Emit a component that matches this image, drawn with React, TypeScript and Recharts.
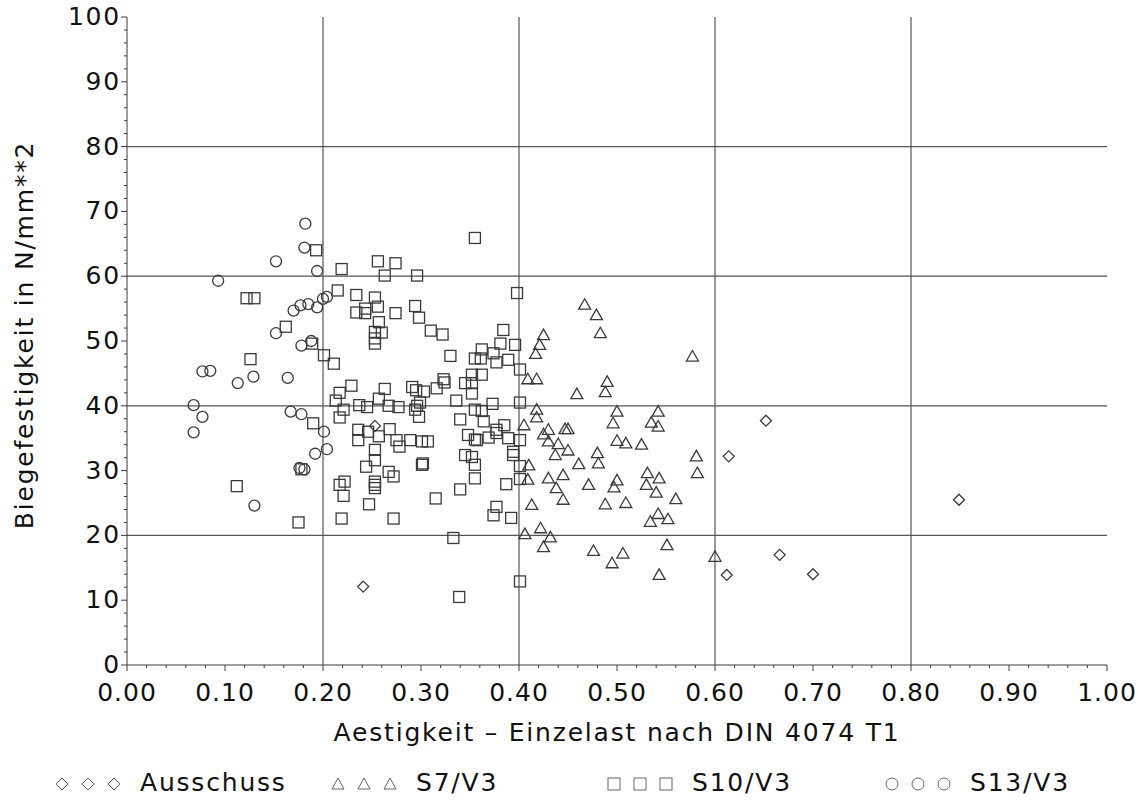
import {
  ScatterChart,
  Scatter,
  XAxis,
  YAxis,
  CartesianGrid,
  Label,
} from "recharts";

// [Aestigkeit, Biegefestigkeit]
const ausschuss: [number, number][] = [
  [0.253, 36.9], [0.241, 12.1], [0.614, 32.2], [0.652, 37.7], [0.666, 17.0],
  [0.612, 13.9], [0.7, 14.0], [0.849, 25.5],
];

const s7v3: [number, number][] = [
  [0.467, 55.6], [0.479, 54.0], [0.483, 51.2], [0.425, 50.9], [0.421, 49.4],
  [0.417, 48.0], [0.577, 47.6], [0.409, 44.1], [0.418, 44.1], [0.459, 41.8],
  [0.49, 43.7], [0.488, 42.1], [0.418, 39.4], [0.418, 38.2], [0.5, 39.1],
  [0.542, 39.1], [0.496, 37.3], [0.535, 37.4], [0.542, 36.8], [0.405, 37.0],
  [0.43, 36.3], [0.447, 36.4], [0.45, 36.4], [0.425, 35.6], [0.43, 34.5],
  [0.44, 34.1], [0.437, 32.4], [0.45, 33.1], [0.5, 34.6], [0.509, 34.2],
  [0.525, 34.0], [0.48, 32.7], [0.481, 31.1], [0.461, 31.0], [0.41, 30.8],
  [0.409, 28.6], [0.43, 28.8], [0.445, 29.3], [0.438, 27.3], [0.445, 25.5],
  [0.413, 24.7], [0.471, 27.8], [0.5, 28.5], [0.497, 27.4], [0.488, 24.8],
  [0.509, 25.0], [0.531, 29.6], [0.53, 27.8], [0.54, 26.6], [0.543, 28.8],
  [0.56, 25.6], [0.581, 32.2], [0.582, 29.6], [0.542, 23.3], [0.534, 22.1],
  [0.552, 22.5], [0.406, 20.2], [0.422, 21.1], [0.432, 19.7], [0.425, 18.2],
  [0.476, 17.6], [0.506, 17.2], [0.495, 15.7], [0.551, 18.5], [0.543, 13.9],
  [0.6, 16.7],
];

const s10v3: [number, number][] = [
  [0.193, 64.0], [0.219, 61.1], [0.215, 57.8], [0.122, 56.6], [0.13, 56.6],
  [0.162, 52.2], [0.126, 47.2], [0.189, 49.6], [0.201, 47.8], [0.211, 46.5],
  [0.112, 27.6], [0.175, 22.0], [0.178, 30.2], [0.19, 37.3], [0.217, 42.0],
  [0.213, 40.8], [0.221, 39.4], [0.217, 38.2], [0.217, 27.8], [0.222, 28.3],
  [0.221, 26.1], [0.219, 22.6], [0.355, 65.9], [0.256, 62.3], [0.274, 62.0],
  [0.263, 60.1], [0.296, 60.1], [0.234, 57.1], [0.253, 56.7], [0.256, 55.3],
  [0.243, 55.0], [0.234, 54.4], [0.243, 54.3], [0.274, 54.3], [0.294, 55.4],
  [0.298, 53.6], [0.257, 52.9], [0.26, 51.3], [0.253, 51.4], [0.253, 50.4],
  [0.253, 49.6], [0.31, 51.6], [0.322, 51.0], [0.384, 51.7], [0.381, 49.6],
  [0.396, 49.4], [0.362, 48.7], [0.374, 48.1], [0.355, 47.3], [0.361, 47.3],
  [0.377, 46.7], [0.389, 47.1], [0.33, 47.7], [0.401, 45.6], [0.352, 44.8],
  [0.362, 44.8], [0.323, 44.1], [0.398, 57.4], [0.229, 43.1], [0.263, 42.6],
  [0.291, 42.9], [0.295, 42.4], [0.303, 42.2], [0.316, 42.7], [0.324, 43.6],
  [0.345, 43.5], [0.352, 43.5], [0.352, 41.9], [0.257, 41.1], [0.237, 40.1],
  [0.245, 39.8], [0.267, 40.0], [0.277, 39.8], [0.296, 40.0], [0.299, 40.5],
  [0.294, 39.4], [0.298, 38.3], [0.336, 40.8], [0.373, 40.3], [0.401, 40.5],
  [0.34, 37.9], [0.355, 39.4], [0.362, 39.2], [0.364, 37.6], [0.385, 37.0],
  [0.236, 36.3], [0.236, 34.7], [0.246, 36.0], [0.257, 35.3], [0.268, 36.4],
  [0.275, 34.7], [0.278, 33.7], [0.289, 34.7], [0.301, 34.5], [0.307, 34.5],
  [0.348, 35.5], [0.355, 34.8], [0.357, 34.7], [0.369, 35.1], [0.377, 36.3],
  [0.377, 35.8], [0.389, 35.0], [0.401, 34.7], [0.253, 33.2], [0.253, 31.6],
  [0.244, 30.6], [0.267, 29.8], [0.272, 29.1], [0.301, 30.9], [0.302, 31.1],
  [0.345, 32.4], [0.352, 32.1], [0.355, 30.9], [0.394, 32.9], [0.394, 32.4],
  [0.401, 30.7], [0.253, 28.3], [0.253, 27.8], [0.253, 27.3], [0.401, 28.7],
  [0.355, 28.8], [0.387, 27.9], [0.34, 27.1], [0.315, 25.7], [0.247, 24.8],
  [0.272, 22.6], [0.377, 24.4], [0.374, 23.1], [0.392, 22.7], [0.333, 19.6],
  [0.401, 12.9], [0.339, 10.5],
];

const s13v3: [number, number][] = [
  [0.093, 59.3], [0.182, 68.1], [0.181, 64.4], [0.152, 62.3], [0.194, 60.8],
  [0.204, 56.8], [0.2, 56.5], [0.185, 55.7], [0.177, 55.5], [0.17, 54.7],
  [0.194, 55.2], [0.152, 51.2], [0.178, 49.3], [0.188, 50.0], [0.077, 45.3],
  [0.085, 45.4], [0.129, 44.5], [0.164, 44.3], [0.113, 43.5], [0.068, 40.1],
  [0.077, 38.3], [0.068, 35.9], [0.167, 39.1], [0.178, 38.7], [0.201, 36.0],
  [0.192, 32.6], [0.204, 33.3], [0.181, 30.2], [0.176, 30.4], [0.13, 24.6],
];

// ticks: labelled every 0.1 / 10, small marks every 0.02 / 2
const xTicks = Array.from({ length: 51 }, (_, i) => i / 50);
const yTicks = Array.from({ length: 51 }, (_, i) => i * 2);
const gridX = [0.2, 0.4, 0.6, 0.8];
const gridY = [20, 40, 60, 80];

const FONT = "DejaVu Sans, sans-serif";
const INK = "#3a3a3a";
const TXT = { fontSize: 25, fontFamily: FONT, fill: "#111", letterSpacing: 1.8 };

const toRows = (pts: [number, number][]) => pts.map(([x, y]) => ({ x, y }));

const Diamond = ({ cx, cy }: any) => (
  <polygon
    points={`${cx},${cy - 5.5} ${cx + 5.5},${cy} ${cx},${cy + 5.5} ${cx - 5.5},${cy}`}
    fill="none"
    stroke={INK}
    strokeWidth={1.3}
  />
);
const Triangle = ({ cx, cy }: any) => (
  <polygon
    points={`${cx},${cy - 6} ${cx + 6},${cy + 4.5} ${cx - 6},${cy + 4.5}`}
    fill="none"
    stroke={INK}
    strokeWidth={1.3}
  />
);
const Square = ({ cx, cy }: any) => (
  <rect x={cx - 5.5} y={cy - 5.5} width={11} height={11} fill="none" stroke={INK} strokeWidth={1.3} />
);
const Circle = ({ cx, cy }: any) => (
  <circle cx={cx} cy={cy} r={5.5} fill="none" stroke={INK} strokeWidth={1.3} />
);

const XTick = ({ x, y, payload }: any) => {
  const v = payload.value;
  const major = Math.abs(v * 10 - Math.round(v * 10)) < 1e-6;
  return (
    <g>
      <line x1={x} x2={x} y1={y} y2={y + (major ? 6 : 3)} stroke={INK} strokeWidth={1} />
      {major && (
        <text x={x} y={y + 36} textAnchor="middle" {...TXT} letterSpacing={1}>
          {v.toFixed(2)}
        </text>
      )}
    </g>
  );
};

const YTick = ({ x, y, payload }: any) => {
  const v = payload.value;
  const major = v % 10 === 0;
  return (
    <g>
      <line x1={x - (major ? 6 : 3)} x2={x} y1={y} y2={y} stroke={INK} strokeWidth={1} />
      {major && (
        <text x={x - 6} y={y + 8} textAnchor="end" {...TXT}>
          {v}
        </text>
      )}
    </g>
  );
};

const legendItems = [
  { name: "Ausschuss", shape: "diamond", left: 54 },
  { name: "S7/V3", shape: "triangle", left: 330 },
  { name: "S10/V3", shape: "square", left: 606 },
  { name: "S13/V3", shape: "circle", left: 884 },
];

function LegendGlyph({ shape }: { shape: string }) {
  const g = (cx: number) => {
    const cy = 10;
    if (shape === "diamond")
      return <polygon key={cx} points={`${cx},${cy - 6} ${cx + 6},${cy} ${cx},${cy + 6} ${cx - 6},${cy}`} fill="none" stroke="#666" strokeWidth={1} />;
    if (shape === "triangle")
      return <polygon key={cx} points={`${cx},${cy - 6} ${cx + 6},${cy + 5} ${cx - 6},${cy + 5}`} fill="none" stroke="#666" strokeWidth={1} />;
    if (shape === "square")
      return <rect key={cx} x={cx - 6} y={cy - 6} width={12} height={12} fill="none" stroke="#666" strokeWidth={1} />;
    return <circle key={cx} cx={cx} cy={cy} r={6} fill="none" stroke="#666" strokeWidth={1} />;
  };
  return (
    <svg width={80} height={20} style={{ verticalAlign: "middle" }}>
      {[8, 34, 60].map(g)}
    </svg>
  );
}

export default function App() {
  return (
    <div style={{ position: "absolute", left: 0, top: 0, width: 1138, height: 800, background: "#fff" }}>
      <ScatterChart width={1138} height={800} margin={{ top: 17, right: 31, left: 0, bottom: 0 }}>
        <CartesianGrid
          horizontalValues={gridY}
          verticalValues={gridX}
          stroke="#555"
          strokeWidth={1.2}
        />
        <XAxis
          type="number"
          dataKey="x"
          domain={[0, 1]}
          ticks={xTicks}
          interval={0}
          height={135}
          tickSize={0}
          tickMargin={0}
          tickLine={false}
          stroke={INK}
          tick={XTick}
        >
          <Label
            content={({ viewBox }: any) => (
              <text
                x={viewBox.x + viewBox.width / 2}
                y={viewBox.y + 76}
                textAnchor="middle"
                {...TXT}
              >
                Aestigkeit – Einzelast nach DIN 4074 T1
              </text>
            )}
          />
        </XAxis>
        <XAxis xAxisId="top" orientation="top" type="number" domain={[0, 1]} height={0} tick={false} tickLine={false} stroke={INK} />
        <YAxis
          type="number"
          dataKey="y"
          domain={[0, 100]}
          ticks={yTicks}
          interval={0}
          width={127}
          tickSize={0}
          tickMargin={0}
          tickLine={false}
          stroke={INK}
          tick={YTick}
        >
          <Label
            content={({ viewBox }: any) => {
              const cy = viewBox.y + viewBox.height / 2 - 6;
              return (
                <text
                  x={24}
                  y={cy}
                  transform={`rotate(-90, 24, ${cy})`}
                  textAnchor="middle"
                  dominantBaseline="central"
                  {...TXT}
                >
                  Biegefestigkeit in N/mm**2
                </text>
              );
            }}
          />
        </YAxis>
        <YAxis yAxisId="right" orientation="right" type="number" domain={[0, 100]} width={0} tick={false} tickLine={false} stroke={INK} />
        <Scatter name="Ausschuss" data={toRows(ausschuss)} shape={Diamond} isAnimationActive={false} />
        <Scatter name="S7/V3" data={toRows(s7v3)} shape={Triangle} isAnimationActive={false} />
        <Scatter name="S10/V3" data={toRows(s10v3)} shape={Square} isAnimationActive={false} />
        <Scatter name="S13/V3" data={toRows(s13v3)} shape={Circle} isAnimationActive={false} />
      </ScatterChart>
      <div style={{ position: "absolute", left: 0, top: 768, width: 1138, height: 30, fontFamily: FONT, fontSize: 25, letterSpacing: 1.8, color: "#111" }}>
        {legendItems.map((it) => (
          <div key={it.name} style={{ position: "absolute", left: it.left, top: 0, whiteSpace: "nowrap", lineHeight: "30px" }}>
            <LegendGlyph shape={it.shape} />
            <span style={{ marginLeft: 6 }}>{it.name}</span>
          </div>
        ))}
      </div>
    </div>
  );
}
